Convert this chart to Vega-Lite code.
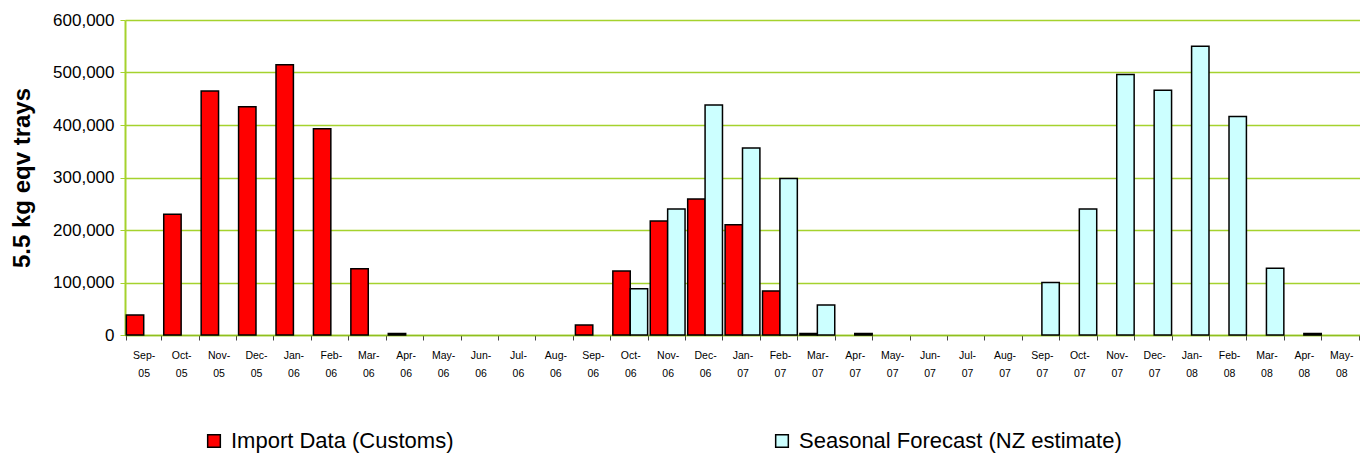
{
  "$schema": "https://vega.github.io/schema/vega-lite/v6.json",
  "width": 1235,
  "height": 315,
  "autosize": {"type": "none"},
  "padding": {"left": 125, "top": 20, "right": 0, "bottom": 122},
  "background": "white",
  "config": {
    "font": "Liberation Sans",
    "view": {"stroke": null},
    "axis": {"labelFont": "Liberation Sans", "titleFont": "Liberation Sans"}
  },
  "data": {
    "values": [
      {"month": "Sep-05", "series": "Import Data (Customs)", "value": 38000},
      {"month": "Oct-05", "series": "Import Data (Customs)", "value": 230000},
      {"month": "Nov-05", "series": "Import Data (Customs)", "value": 465000},
      {"month": "Dec-05", "series": "Import Data (Customs)", "value": 435000},
      {"month": "Jan-06", "series": "Import Data (Customs)", "value": 515000},
      {"month": "Feb-06", "series": "Import Data (Customs)", "value": 393000},
      {"month": "Mar-06", "series": "Import Data (Customs)", "value": 126000},
      {"month": "Apr-06", "series": "Import Data (Customs)", "value": 3000},
      {"month": "Sep-06", "series": "Import Data (Customs)", "value": 19000},
      {"month": "Oct-06", "series": "Import Data (Customs)", "value": 122000},
      {"month": "Oct-06", "series": "Seasonal Forecast (NZ estimate)", "value": 88000},
      {"month": "Nov-06", "series": "Import Data (Customs)", "value": 217000},
      {"month": "Nov-06", "series": "Seasonal Forecast (NZ estimate)", "value": 240000},
      {"month": "Dec-06", "series": "Import Data (Customs)", "value": 259000},
      {"month": "Dec-06", "series": "Seasonal Forecast (NZ estimate)", "value": 438000},
      {"month": "Jan-07", "series": "Import Data (Customs)", "value": 210000},
      {"month": "Jan-07", "series": "Seasonal Forecast (NZ estimate)", "value": 356000},
      {"month": "Feb-07", "series": "Import Data (Customs)", "value": 84000},
      {"month": "Feb-07", "series": "Seasonal Forecast (NZ estimate)", "value": 298000},
      {"month": "Mar-07", "series": "Import Data (Customs)", "value": 3000},
      {"month": "Mar-07", "series": "Seasonal Forecast (NZ estimate)", "value": 57000},
      {"month": "Apr-07", "series": "Seasonal Forecast (NZ estimate)", "value": 3000},
      {"month": "Sep-07", "series": "Seasonal Forecast (NZ estimate)", "value": 100000},
      {"month": "Oct-07", "series": "Seasonal Forecast (NZ estimate)", "value": 240000},
      {"month": "Nov-07", "series": "Seasonal Forecast (NZ estimate)", "value": 496000},
      {"month": "Dec-07", "series": "Seasonal Forecast (NZ estimate)", "value": 466000},
      {"month": "Jan-08", "series": "Seasonal Forecast (NZ estimate)", "value": 550000},
      {"month": "Feb-08", "series": "Seasonal Forecast (NZ estimate)", "value": 416000},
      {"month": "Mar-08", "series": "Seasonal Forecast (NZ estimate)", "value": 127000},
      {"month": "Apr-08", "series": "Seasonal Forecast (NZ estimate)", "value": 3000}
    ]
  },
  "mark": {"type": "bar", "stroke": "black", "strokeWidth": 1.5},
  "encoding": {
    "x": {
      "field": "month",
      "type": "nominal",
      "sort": null,
      "scale": {
        "domain": ["Sep-05","Oct-05","Nov-05","Dec-05","Jan-06","Feb-06","Mar-06","Apr-06","May-06","Jun-06","Jul-06","Aug-06","Sep-06","Oct-06","Nov-06","Dec-06","Jan-07","Feb-07","Mar-07","Apr-07","May-07","Jun-07","Jul-07","Aug-07","Sep-07","Oct-07","Nov-07","Dec-07","Jan-08","Feb-08","Mar-08","Apr-08","May-08"],
        "paddingInner": 0.07,
        "paddingOuter": 0.035
      },
      "axis": {
        "title": null,
        "labelAngle": 0,
        "labelExpr": "isString(datum.value) ? [split(datum.value, '-')[0] + '-', split(datum.value, '-')[1]] : ''",
        "labelFontSize": 10.5,
        "labelColor": "#000",
        "labelLineHeight": 18,
        "labelPadding": 10,
        "tickBand": "extent",
        "tickSize": 5,
        "tickColor": "#444",
        "domainColor": "#8fbf1f",
        "domainWidth": 1.5,
        "grid": false
      }
    },
    "xOffset": {
      "field": "series",
      "type": "nominal",
      "scale": {"domain": ["Import Data (Customs)", "Seasonal Forecast (NZ estimate)"], "paddingInner": 0, "paddingOuter": 0}
    },
    "y": {
      "field": "value",
      "type": "quantitative",
      "scale": {"domain": [0, 600000], "nice": false},
      "axis": {
        "title": "5.5 kg eqv trays",
        "titleFontSize": 24,
        "titleFontWeight": "bold",
        "titleColor": "#000",
        "titlePadding": 18,
        "values": [0, 100000, 200000, 300000, 400000, 500000, 600000],
        "format": ",d",
        "labelFontSize": 17,
        "labelColor": "#000",
        "labelPadding": 6,
        "tickSize": 5,
        "tickColor": "#a5d22d",
        "domainColor": "#a5d22d",
        "domainWidth": 2,
        "gridColor": "#a5d22d",
        "gridWidth": 1.3
      }
    },
    "color": {
      "field": "series",
      "type": "nominal",
      "scale": {"domain": ["Import Data (Customs)", "Seasonal Forecast (NZ estimate)"], "range": ["#ff0000", "#ccffff"]},
      "legend": {
        "title": null,
        "orient": "none",
        "legendX": 78,
        "legendY": 410,
        "direction": "horizontal",
        "columns": 2,
        "columnPadding": 317,
        "symbolType": "square",
        "symbolSize": 160,
        "symbolStrokeColor": "black",
        "symbolStrokeWidth": 1.5,
        "symbolOpacity": 1,
        "labelFontSize": 22,
        "labelColor": "#000",
        "labelOffset": 6,
        "labelLimit": 500
      }
    }
  }
}
